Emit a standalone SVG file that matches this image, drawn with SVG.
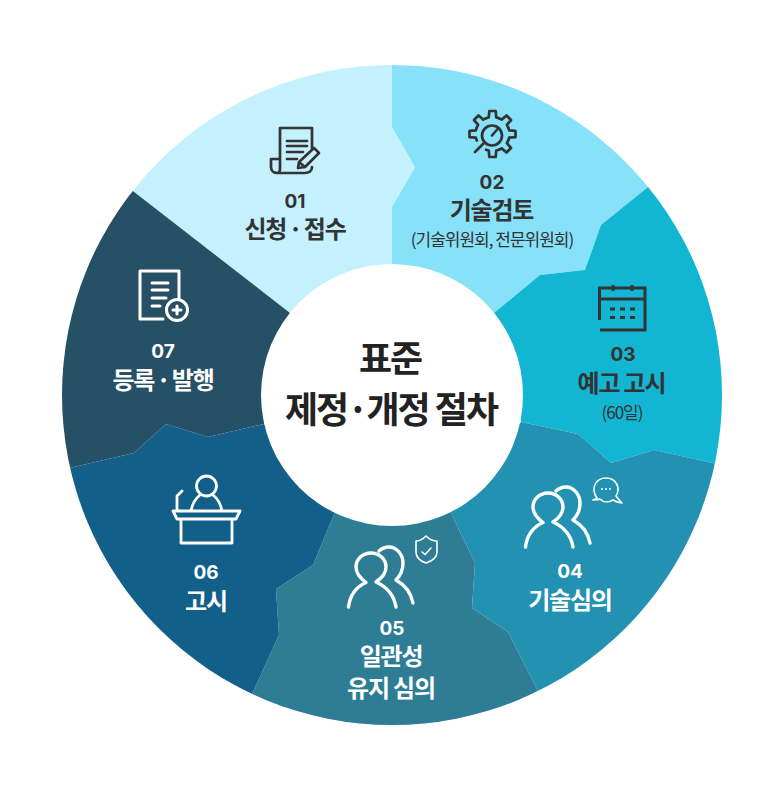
<svg xmlns="http://www.w3.org/2000/svg" xmlns:xlink="http://www.w3.org/1999/xlink" width="784" height="800" viewBox="0 0 784 800">
<style>
text{font-family:"Noto Sans CJK KR","Noto Sans",sans-serif;text-anchor:middle}
.d{fill:#333}.w{fill:#fff}
.n{font-family:"Inter","Noto Sans",sans-serif;font-size:19px;font-weight:700}
.t{font-size:24px;font-weight:700;letter-spacing:-1.2px;word-spacing:-2px}
.s{font-size:17px;font-weight:400;letter-spacing:-1px}
.c{font-size:36px;font-weight:700;fill:#222;letter-spacing:-2px}
.id,.iw{fill:none;stroke-linecap:round;stroke-linejoin:round}
.id{stroke:#333;stroke-width:2.7}.iw{stroke:#fff;stroke-width:3.4}
.thin{stroke-width:1.6}
</style>
<defs>
<clipPath id="disc"><circle cx="392" cy="395" r="330"/></clipPath>
<path id="tooth" d="M-6.5-15.7A17 17 0 0 1-3.7-16.6L-3.2-23H3.2L3.7-16.6A17 17 0 0 1 6.5-15.7"/>
<g id="people">
<path d="M525.5 547C527 535 533 527 543 522.5C537 518 533 512 533 507A15 14 0 0 1 563 507C563 512 559 518 553 522C564 527 571 535 573 547"/>
<path d="M556 491C559 488 562 487 566 487C574 487 580 495 580 503C580 510 577 516 573 520C582 525 588 533 590 543"/>
</g>
</defs>
<rect width="784" height="800" fill="#fff"/>
<g id="segments" clip-path="url(#disc)">
<path id="seg1" fill="#c5f1ff" d="M392 0H75V146L290 313L392 265V207L415 167L392 127Z"/>
<path id="seg2" fill="#86e1f9" d="M392 0H700V145L601 225L585 270L540 275L494 313L392 265V207L415 167L392 127Z"/>
<path id="seg3" fill="#12b6d3" d="M700 145H790V480L654 450L611 463L578 434L521 422L494 313L540 275L585 270L601 225Z"/>
<path id="seg4" fill="#2391b1" d="M790 480V765H575L538 691L508 632L472 608L475 563L450 511L521 422L578 434L611 463L654 450Z"/>
<path id="seg5" fill="#2e7d94" d="M575 765V800H215V770L252 694L279 635L276 589L313 565L335 512L450 511L475 563L472 608L508 632L538 691Z"/>
<path id="seg6" fill="#125f8a" d="M215 770H0V484L134 453L166 424L208 437L264 424L335 512L313 565L276 589L279 635L252 694Z"/>
<path id="seg7" fill="#265066" d="M0 484V146H75L290 313L264 424L208 437L166 424L134 453Z"/>
</g>
<circle id="hub" cx="392" cy="395" r="131" fill="#fff"/>
<g id="center"><text class="c" x="390" y="372">표준</text><text class="c" x="391" y="423">제정·개정 절차</text></g>
<g id="node1">
<g class="id"><path d="M280 158V128H312V148M271 159H280V169C280 171 279 173 277 173H305C309 173 312 171 312 167M271 159V167C271 171 274 173 277 173M287 141H307M287 146H307M287 152H303M287 159H297"/><path d="M298 168L299 162L314 148L319 153L305 167ZM299 162L305 167"/></g>
<text class="n d" x="295" y="208">01</text><text class="t d" x="295" y="238">신청 · 접수</text>
</g>
<g id="node2">
<g class="id" transform="translate(492.5 134)"><use xlink:href="#tooth"/><use xlink:href="#tooth" transform="rotate(45)"/><use xlink:href="#tooth" transform="rotate(90)"/><use xlink:href="#tooth" transform="rotate(135)"/><use xlink:href="#tooth" transform="rotate(180)"/><use xlink:href="#tooth" transform="rotate(270)"/><use xlink:href="#tooth" transform="rotate(315)"/></g>
<g class="id"><circle cx="492" cy="135.500" r="10"/><path d="M484 143L475 152M492 135.500L497.500 129"/></g>
<text class="n d" x="492" y="189">02</text><text class="t d" x="491.500" y="219">기술검토</text><text class="s d" x="492" y="246">(기술위원회, 전문위원회)</text>
</g>
<g id="node3">
<path fill="none" stroke="#333" stroke-width="3" d="M599.500 320V288H645V330H600M599.500 299H645M613 285V291M632 285V291"/>
<g class="d"><rect x="610" y="307.500" width="5" height="3"/><rect x="620" y="307.500" width="5" height="3"/><rect x="630" y="307.500" width="5" height="3"/><rect x="610" y="316" width="5" height="3"/><rect x="620" y="316" width="5" height="3"/><rect x="630" y="316" width="5" height="3"/></g>
<text class="n d" x="623" y="361">03</text><text class="t d" x="621.500" y="392" style="word-spacing:0">예고 고시</text><text class="s d" x="622" y="419">(60일)</text>
</g>
<g id="node4">
<use xlink:href="#people" class="iw"/>
<path class="iw thin" d="M597 498C590 488 596 478 606 478C616 478 621 488 616 496C618 499 620 501 622 503C619 503 616 502 613 500C608 503 603 502 600 499C598 500 596 500 593 500C595 499 596 499 597 498Z"/>
<circle class="w" cx="602" cy="489" r="1"/><circle class="w" cx="606" cy="489" r="1"/><circle class="w" cx="610" cy="489" r="1"/>
<text class="n w" x="570" y="578">04</text><text class="t w" x="570" y="609">기술심의</text>
</g>
<g id="node5">
<use xlink:href="#people" class="iw" transform="translate(-177 60)"/>
<path class="iw thin" d="M426 536C429 539 433 541 437 541V552C437 557 432 561 426 563C420 561 416 557 416 552V541C420 541 423 539 426 536ZM422 552L425 554.500L431 548"/>
<text class="n w" x="392" y="635">05</text><text class="t w" x="391" y="665">일관성</text><text class="t w" x="391" y="697" style="word-spacing:0">유지 심의</text>
</g>
<g id="node6">
<g class="iw" style="stroke-width:2.800"><circle cx="206.500" cy="486" r="10"/><path d="M200 495C195 499 192 505 191 511M213 495C218 499 221 505 222 511M173 511H240L236 519H177ZM181 519V543H232V519M177 511V496L182 491"/></g>
<text class="n w" x="206" y="579">06</text><text class="t w" x="206" y="610">고시</text>
</g>
<g id="node7">
<g class="iw" style="stroke-width:3"><path d="M163 319H140V271H179V298M152 283H168M152 290H168M152 298H166M152 306H160"/><circle cx="177" cy="310" r="10.500"/><path d="M173 310H181M177 306V314"/></g>
<text class="n w" x="163" y="358">07</text><text class="t w" x="163" y="389">등록 · 발행</text>
</g>
</svg>
